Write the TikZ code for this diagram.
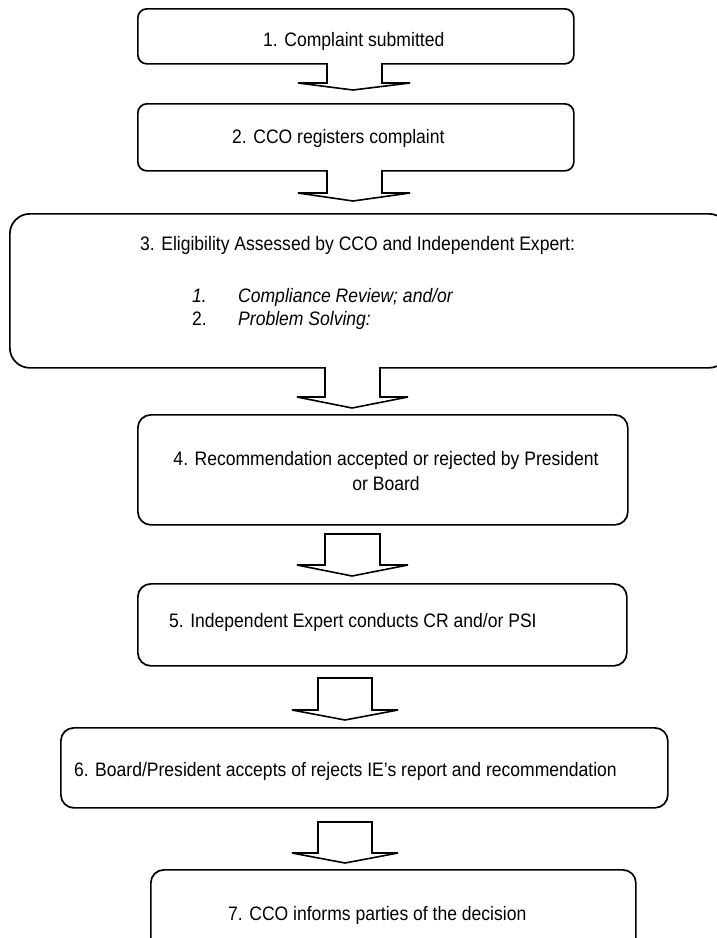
\documentclass[tikz,border=0pt]{standalone}
\usepackage{fontspec}
\setmainfont{Liberation Sans}[FakeStretch=0.9]
\begin{document}
\begin{tikzpicture}[x=1pt,y=-1pt,
  box/.style={draw, line width=1.7pt, rounded corners=#1, inner sep=0pt, anchor=north west},
  box/.default=12pt,
  txt/.style={inner sep=0pt, anchor=base west, font=\fontsize{19.5}{25}\selectfont},
  arr/.style={draw, line width=1.6pt, fill=white, line join=miter}]
\useasboundingbox (0,0) rectangle (717,938);
\fill[white] (0,0) rectangle (717,938);
% boxes
\node[box=9pt, minimum width=436pt, minimum height=55pt] (b1) at (137,8) {};
\node[box=9pt, minimum width=436pt, minimum height=67pt] (b2) at (137,103) {};
\node[box=20pt, minimum width=719pt, minimum height=154pt] (b3) at (9,213) {};
\node[box=13pt, minimum width=490pt, minimum height=110pt] (b4) at (137,414) {};
\node[box=13pt, minimum width=489pt, minimum height=82pt] (b5) at (137,583) {};
\node[box=13pt, minimum width=607pt, minimum height=80pt] (b6) at (60,727) {};
\node[box=13pt, minimum width=485pt, minimum height=83pt] (b7) at (150,869) {};
% texts
\node[txt] (t1) at (263,46) {1. Complaint submitted};
\node[txt] (t2) at (232,143) {2. CCO registers complaint};
\node[txt] (t3) at (140,250) {3. Eligibility Assessed by CCO and Independent Expert:};
\node[txt] (t3a) at (192,302) {\itshape 1.};
\node[txt] (t3b) at (238,302) {\itshape Compliance Review; and/or};
\node[txt] (t3c) at (192,325) {2.};
\node[txt] (t3d) at (238,325) {\itshape Problem Solving:};
\node[txt, anchor=base] (t4a) at (386,465) {4. Recommendation accepted or rejected by President};
\node[txt, anchor=base] (t4b) at (386,490) {or Board};
\node[txt] (t5) at (169,627) {5. Independent Expert conducts CR and/or PSI};
\node[txt, anchor=base east] (t6) at (617,776) {6. Board/President accepts of rejects IE's report and recommendation};
\node[txt] (t7) at (228,920) {7. CCO informs parties of the decision};
% block arrows
\draw[arr] (327,63) -- (327,83) -- (298,83) -- (353,90) -- (410,83) -- (382,83) -- (382,63);
\draw[arr] (327,170) -- (327,193) -- (298,193) -- (353,201) -- (410,193) -- (382,193) -- (382,170);
\draw[arr] (325,367) -- (325,397) -- (297,397) -- (352,408) -- (408,397) -- (380,397) -- (380,367);
\draw[arr] (325,534) -- (325,565) -- (297,565) -- (352,576) -- (408,565) -- (380,565) -- (380,534) -- cycle;
\draw[arr] (318,678) -- (318,710) -- (292,710) -- (345,720) -- (398,710) -- (372,710) -- (372,678) -- cycle;
\draw[arr] (318,822) -- (318,853) -- (292,853) -- (345,863) -- (398,853) -- (372,853) -- (372,822) -- cycle;
\end{tikzpicture}
\end{document}
